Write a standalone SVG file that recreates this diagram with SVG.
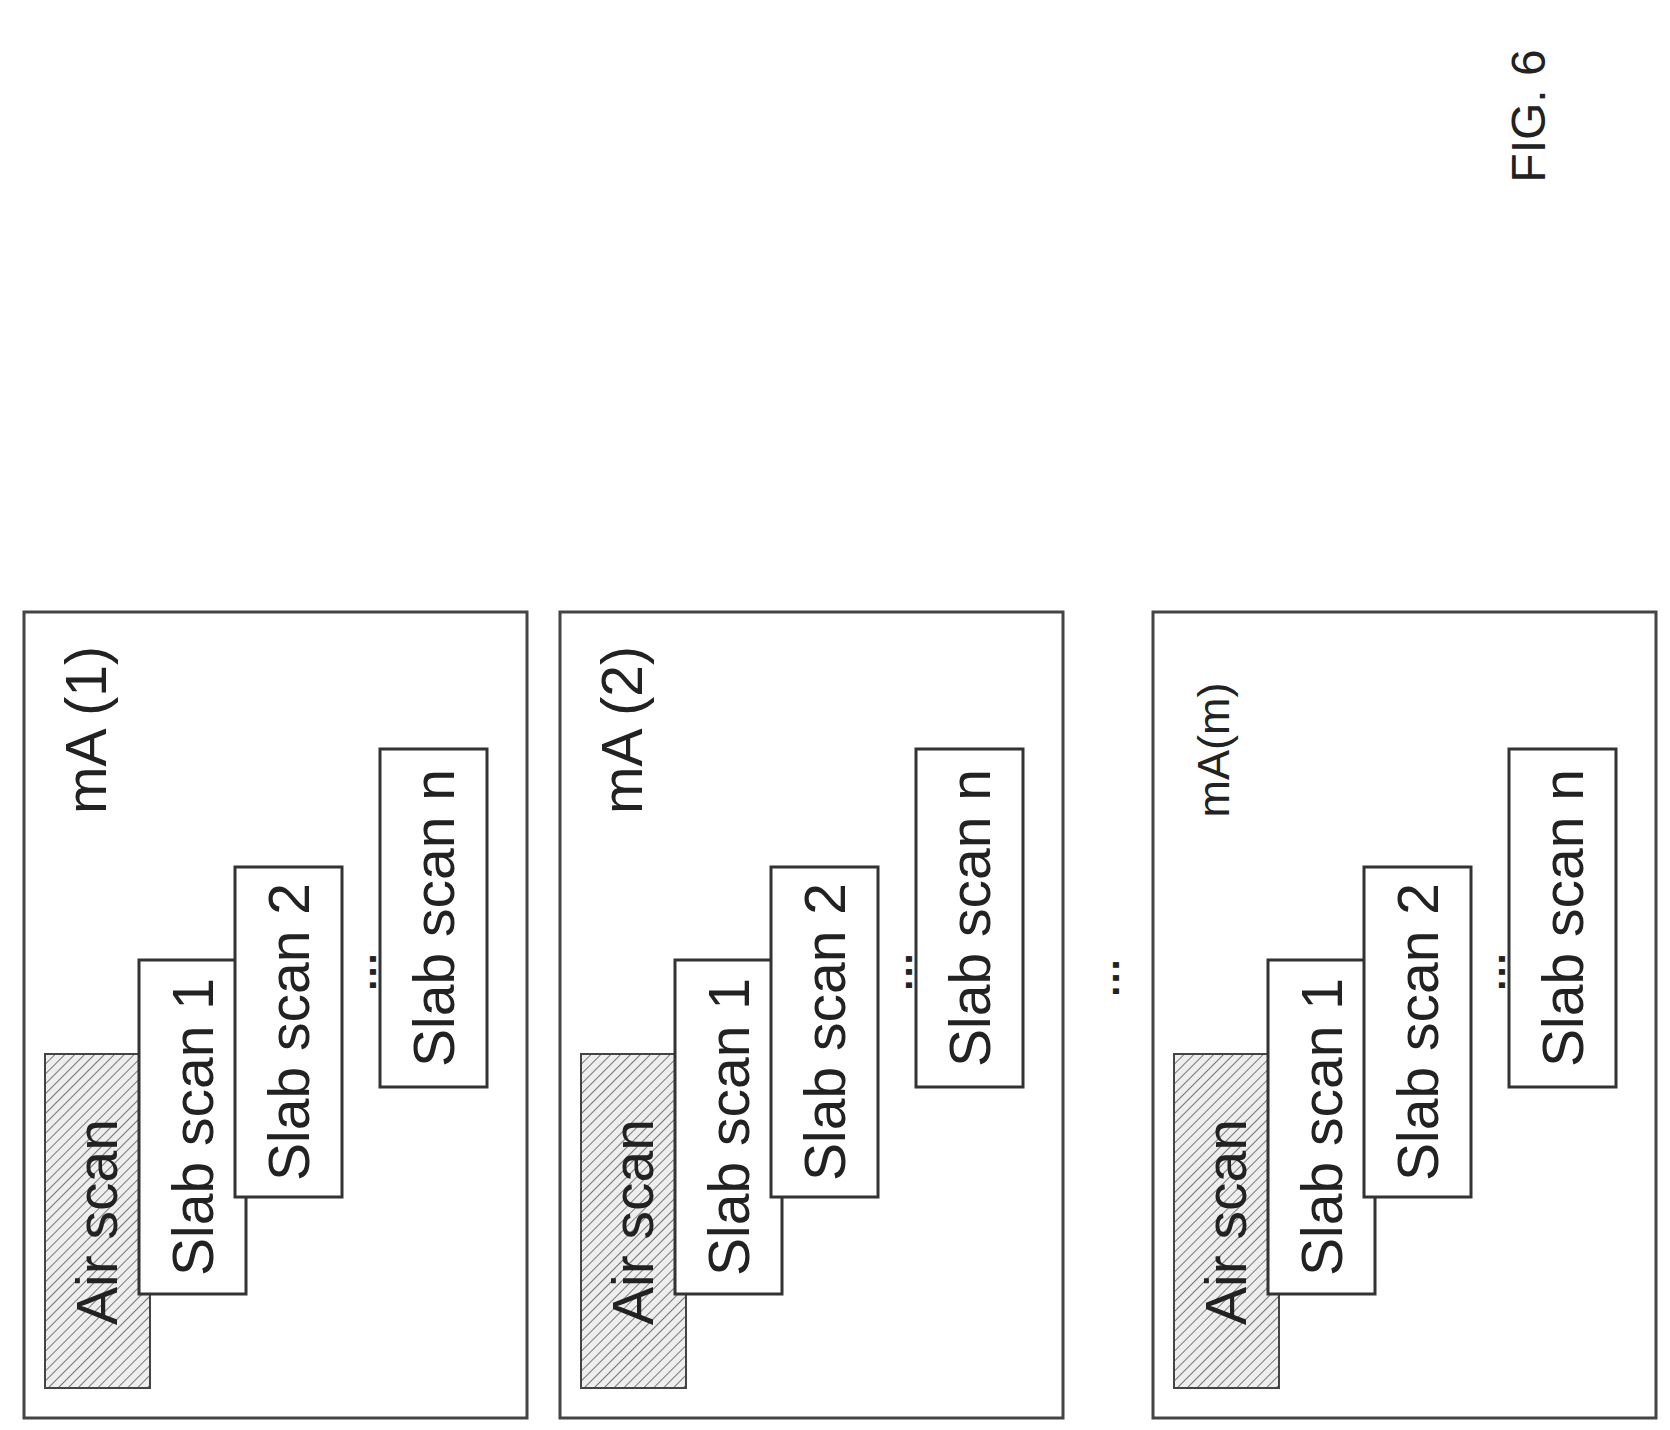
<svg xmlns="http://www.w3.org/2000/svg" width="1670" height="1430" viewBox="0 0 1670 1430">
<style>
.panel{fill:#fff;stroke:#444;stroke-width:3}
.box{fill:#fff;stroke:#333;stroke-width:3}
.air{fill:url(#hatch);stroke:#444;stroke-width:2}
text{font-family:"Liberation Sans",Arial,sans-serif;fill:#222;text-anchor:middle}
.t{font-size:57px}
.d{font-size:40px;font-weight:bold;letter-spacing:2px}
.s{font-size:45px}
</style>
<defs>
<pattern id="hatch" width="7" height="7" patternUnits="userSpaceOnUse" patternTransform="rotate(45)">
<rect width="7" height="7" fill="#eee"/>
<line x1="0" y1="0" x2="0" y2="7" stroke="#777" stroke-width="2"/>
</pattern>
<g id="content">
<rect class="air" x="45" y="1054" width="105" height="334"/>
<text class="t" transform="translate(117,1222) rotate(-90)">Air scan</text>
<rect class="box" x="139" y="960" width="107" height="334"/>
<text class="t" transform="translate(213,1127) rotate(-90)">Slab scan 1</text>
<rect class="box" x="235" y="867" width="107" height="330"/>
<text class="t" transform="translate(309,1032) rotate(-90)">Slab scan 2</text>
<text class="d" transform="translate(376,971) rotate(-90)">...</text>
<rect class="box" x="380" y="749" width="107" height="338"/>
<text class="t" transform="translate(454,918) rotate(-90)">Slab scan n</text>
</g>
</defs>
<g id="panel1">
<rect class="panel" x="24" y="612" width="503" height="806"/>
<use href="#content"/>
<text class="t" transform="translate(106,730) rotate(-90)">mA (1)</text>
</g>
<g id="panel2" transform="translate(536,0)">
<rect class="panel" x="24" y="612" width="503" height="806"/>
<use href="#content"/>
<text class="t" transform="translate(106,730) rotate(-90)">mA (2)</text>
</g>
<g id="dots">
<text class="d" transform="translate(1119,977) rotate(-90)">...</text>
</g>
<g id="panel3" transform="translate(1129,0)">
<rect class="panel" x="24" y="612" width="503" height="806"/>
<use href="#content"/>
<text class="s" transform="translate(100,750) rotate(-90)">mA(m)</text>
</g>
<g id="caption">
<text style="font-size:48px" transform="translate(1545,116) rotate(-90)">FIG. 6</text>
</g>
</svg>
